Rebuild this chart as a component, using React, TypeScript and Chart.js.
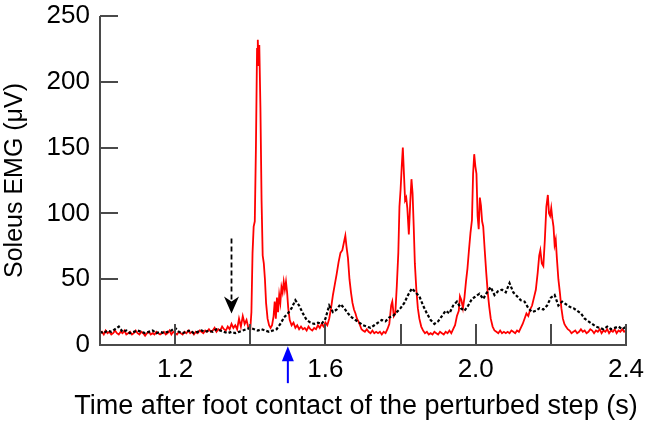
import React, { useEffect, useRef } from 'react';
import { Chart, registerables } from 'chart.js';

Chart.register(...registerables);

// ---- Data ----
const redTime = [
  1.000, 1.005, 1.010, 1.015, 1.020, 1.025, 1.030, 1.035, 1.040, 1.045,
  1.050, 1.055, 1.060, 1.065, 1.070, 1.075, 1.080, 1.085, 1.090, 1.095,
  1.100, 1.105, 1.110, 1.115, 1.120, 1.125, 1.130, 1.135, 1.140, 1.145,
  1.150, 1.155, 1.160, 1.165, 1.170, 1.175, 1.180, 1.185, 1.190, 1.195,
  1.200, 1.205, 1.210, 1.215, 1.220, 1.225, 1.230, 1.235, 1.240, 1.245,
  1.250, 1.255, 1.260, 1.265, 1.270, 1.275, 1.280, 1.285, 1.290, 1.295,
  1.300, 1.305, 1.310, 1.315, 1.320, 1.325, 1.330, 1.335, 1.340, 1.345,
  1.350, 1.355, 1.360, 1.365, 1.370, 1.375, 1.380, 1.385, 1.390, 1.395,
  1.400, 1.403, 1.406, 1.409, 1.412, 1.415, 1.418, 1.420, 1.422, 1.424,
  1.427, 1.430, 1.433, 1.436, 1.439, 1.442, 1.446, 1.450, 1.454, 1.458,
  1.462, 1.465, 1.468, 1.471, 1.474, 1.477, 1.480, 1.483, 1.486, 1.489,
  1.492, 1.495, 1.498, 1.501, 1.505, 1.510, 1.515, 1.520, 1.525, 1.530,
  1.535, 1.540, 1.545, 1.550, 1.555, 1.560, 1.565, 1.570, 1.575, 1.580,
  1.585, 1.590, 1.595, 1.600, 1.605, 1.610, 1.615, 1.620, 1.625, 1.630,
  1.635, 1.640, 1.645, 1.650, 1.653, 1.656, 1.660, 1.664, 1.668, 1.672,
  1.676, 1.680, 1.684, 1.688, 1.692, 1.696, 1.700, 1.705, 1.710, 1.715,
  1.720, 1.725, 1.730, 1.735, 1.740, 1.745, 1.750, 1.755, 1.760, 1.765,
  1.770, 1.775, 1.778, 1.782, 1.786, 1.790, 1.794, 1.797, 1.800, 1.803,
  1.806, 1.809, 1.812, 1.815, 1.818, 1.822, 1.826, 1.829, 1.832, 1.835,
  1.838, 1.842, 1.846, 1.850, 1.855, 1.860, 1.865, 1.870, 1.875, 1.880,
  1.885, 1.890, 1.895, 1.900, 1.905, 1.910, 1.915, 1.920, 1.925, 1.930,
  1.935, 1.940, 1.945, 1.950, 1.955, 1.958, 1.962, 1.966, 1.970, 1.974,
  1.978, 1.982, 1.986, 1.990, 1.993, 1.996, 1.999, 2.002, 2.005, 2.008,
  2.011, 2.014, 2.017, 2.020, 2.024, 2.028, 2.032, 2.036, 2.040, 2.045,
  2.050, 2.055, 2.060, 2.065, 2.070, 2.075, 2.080, 2.085, 2.090, 2.095,
  2.100, 2.105, 2.110, 2.115, 2.120, 2.125, 2.130, 2.135, 2.140, 2.145,
  2.150, 2.155, 2.160, 2.165, 2.169, 2.172, 2.176, 2.180, 2.184, 2.188,
  2.192, 2.195, 2.198, 2.201, 2.204, 2.207, 2.210, 2.213, 2.216, 2.220,
  2.224, 2.228, 2.232, 2.236, 2.240, 2.245, 2.250, 2.255, 2.260, 2.265,
  2.270, 2.275, 2.280, 2.285, 2.290, 2.295, 2.300, 2.305, 2.310, 2.315,
  2.320, 2.325, 2.330, 2.335, 2.340, 2.345, 2.350, 2.355, 2.360, 2.365,
  2.370, 2.375, 2.380, 2.385, 2.390, 2.395, 2.400,
];
const redEmg = [
  9, 10, 8, 11, 9, 10, 8, 9, 11, 9,
  8, 10, 9, 11, 8, 9, 10, 8, 9, 11,
  9, 8, 10, 9, 7, 9, 10, 8, 9, 8,
  10, 9, 8, 9, 10, 8, 9, 11, 8, 10,
  9, 8, 10, 9, 8, 10, 9, 11, 9, 10,
  8, 10, 9, 11, 10, 9, 11, 10, 12, 10,
  11, 13, 10, 12, 11, 14, 12, 11, 14, 12,
  16, 13, 15, 12, 20, 14, 22, 16, 19, 13,
  12, 25, 70, 90, 94, 150, 225, 232, 212, 228,
  180, 110, 68, 62, 50, 32, 20, 15, 13, 15,
  22, 33, 20, 36, 25, 38, 32, 44, 40, 48,
  42, 48, 40, 28, 19, 15, 17, 13, 15, 12,
  14, 12, 13, 11, 14, 12, 11, 13, 12, 15,
  13, 16, 14, 17, 15, 20, 28, 38, 46, 54,
  63, 70, 72, 79, 83, 75, 66, 50, 40, 32,
  27, 24, 20, 18, 15, 12, 11, 10, 12, 10,
  9, 11, 9, 10, 9, 10, 8, 10, 9, 12,
  16, 30, 33, 22, 24, 45, 70, 105, 118, 135,
  150, 130, 110, 112, 104, 84, 110, 126, 115, 90,
  62, 42, 28, 20, 14, 11, 9, 10, 8, 9,
  8, 10, 9, 8, 10, 9, 8, 10, 9, 11,
  9, 12, 15, 22, 26, 37, 34, 28, 36, 48,
  58, 72, 85, 95, 130, 145, 136, 130, 98, 88,
  112, 106, 94, 90, 72, 55, 40, 29, 20, 14,
  11, 10, 9, 11, 9, 10, 9, 10, 9, 11,
  10, 9, 11, 10, 13, 16, 20, 24, 22, 27,
  30, 36, 42, 55, 68, 72, 62, 60, 80, 105,
  114, 100, 98, 104, 96, 90, 76, 80, 66, 50,
  40, 28, 20, 16, 14, 12, 11, 9, 10, 11,
  9, 10, 12, 10, 11, 9, 10, 12, 11, 9,
  11, 10, 12, 9, 11, 10, 12, 9, 11, 10,
  12, 9, 11, 10, 12, 10, 11,
];

const blackTime = [
  1.00, 1.01, 1.02, 1.03, 1.04, 1.05, 1.06, 1.07, 1.08, 1.09,
  1.10, 1.11, 1.12, 1.13, 1.14, 1.15, 1.16, 1.17, 1.18, 1.19,
  1.20, 1.21, 1.22, 1.23, 1.24, 1.25, 1.26, 1.27, 1.28, 1.29,
  1.30, 1.31, 1.32, 1.33, 1.34, 1.35, 1.36, 1.37, 1.38, 1.39,
  1.40, 1.41, 1.42, 1.43, 1.44, 1.45, 1.46, 1.47, 1.48, 1.49,
  1.50, 1.51, 1.52, 1.525, 1.53, 1.54, 1.55, 1.56, 1.57, 1.58,
  1.59, 1.60, 1.61, 1.62, 1.63, 1.64, 1.65, 1.66, 1.67, 1.68,
  1.69, 1.70, 1.71, 1.72, 1.73, 1.74, 1.75, 1.76, 1.77, 1.78,
  1.79, 1.80, 1.81, 1.82, 1.83, 1.84, 1.85, 1.86, 1.87, 1.88,
  1.89, 1.90, 1.91, 1.92, 1.93, 1.94, 1.95, 1.96, 1.97, 1.98,
  1.99, 2.00, 2.01, 2.02, 2.03, 2.04, 2.05, 2.06, 2.07, 2.08,
  2.09, 2.10, 2.11, 2.12, 2.13, 2.14, 2.15, 2.16, 2.17, 2.18,
  2.19, 2.20, 2.21, 2.22, 2.23, 2.24, 2.25, 2.26, 2.27, 2.28,
  2.29, 2.30, 2.31, 2.32, 2.33, 2.34, 2.35, 2.36, 2.37, 2.38,
  2.39, 2.40,
];
const blackEmg = [
  10, 9, 11, 10, 12, 14, 10, 11, 9, 10,
  11, 10, 9, 10, 11, 9, 10, 9, 10, 11,
  13, 10, 9, 10, 11, 9, 10, 11, 10, 11,
  10, 12, 11, 10, 9, 10, 9, 10, 11, 12,
  13, 12, 11, 12, 11, 10, 11, 12, 16, 21,
  24, 28, 34, 32, 30, 24, 19, 17, 16, 17,
  16, 20, 30, 25, 27, 31, 28, 24, 21, 19,
  17, 15, 14, 13, 15, 17, 19, 18, 21, 22,
  25, 28, 32, 38, 43, 40, 37, 30, 24, 19,
  16, 18, 22, 26, 24, 30, 33, 28, 26, 30,
  35, 37, 39, 35, 40, 44, 38, 41, 42, 40,
  47, 40, 37, 34, 33, 28, 25, 26, 28, 27,
  30, 36, 38, 30, 33, 31, 29, 28, 26, 24,
  20, 18, 16, 14, 13, 12, 14, 12, 13, 14,
  12, 14,
];

const xTickValues = [1.2, 1.6, 2.0, 2.4];
const xTickLabels = ['1.2', '1.6', '2.0', '2.4'];
const xTickMarks = [1.2, 1.4, 1.6, 1.8, 2.0, 2.2, 2.4];
const yTickValues = [0, 50, 100, 150, 200, 250];
const xTitle = 'Time after foot contact of the perturbed step (s)';
const yTitle = 'Soleus EMG (μV)';

// annotation arrows, in data units (time, µV)
const perturbationArrow = { time: 1.5, tail: -29, tip: -1 };
const onsetArrow = { time: 1.35, tail: 81, tip: 24 };

const FONT = "'Liberation Sans', Arial, sans-serif";

const axesPlugin = {
  id: 'customAxes',
  afterDatasetsDraw(chart: any) {
    const { ctx, chartArea } = chart;
    const xs = chart.scales.x;
    const ys = chart.scales.y;
    const { left, right, top, bottom } = chartArea;
    ctx.save();
    ctx.strokeStyle = '#4a4a4a';
    ctx.lineWidth = 2;
    ctx.beginPath();
    ctx.moveTo(left, top);
    ctx.lineTo(left, bottom);
    ctx.lineTo(right + 1, bottom);
    ctx.stroke();
    ctx.beginPath();
    yTickValues.forEach((v) => {
      if (v === 0) return;
      const y = Math.round(ys.getPixelForValue(v));
      ctx.moveTo(left, y);
      ctx.lineTo(left + 18, y);
    });
    xTickMarks.forEach((v) => {
      const x = Math.round(xs.getPixelForValue(v));
      ctx.moveTo(x, bottom);
      ctx.lineTo(x, bottom - 21);
    });
    ctx.stroke();

    // x-axis title (slightly left of the plot centre, as in the reference)
    ctx.fillStyle = '#000';
    ctx.font = `27px ${FONT}`;
    ctx.textAlign = 'center';
    ctx.textBaseline = 'middle';
    ctx.fillText(xTitle, (left + right) / 2 - 7, bottom + 62);

    // blue arrow (perturbation)
    const bx = xs.getPixelForValue(perturbationArrow.time);
    const bTail = ys.getPixelForValue(perturbationArrow.tail);
    const bTip = ys.getPixelForValue(perturbationArrow.tip);
    ctx.strokeStyle = '#0000ff';
    ctx.fillStyle = '#0000ff';
    ctx.lineWidth = 2;
    ctx.beginPath();
    ctx.moveTo(bx, bTail);
    ctx.lineTo(bx, bTip + 10);
    ctx.stroke();
    ctx.beginPath();
    ctx.moveTo(bx, bTip);
    ctx.lineTo(bx - 6, bTip + 15);
    ctx.lineTo(bx + 6, bTip + 15);
    ctx.closePath();
    ctx.fill();

    // black dashed arrow (onset)
    const ax = xs.getPixelForValue(onsetArrow.time);
    const aTail = ys.getPixelForValue(onsetArrow.tail);
    const aTip = ys.getPixelForValue(onsetArrow.tip);
    ctx.strokeStyle = '#000';
    ctx.fillStyle = '#000';
    ctx.lineWidth = 1.8;
    ctx.setLineDash([5, 3]);
    ctx.beginPath();
    ctx.moveTo(ax, aTail);
    ctx.lineTo(ax, aTip - 12);
    ctx.stroke();
    ctx.setLineDash([]);
    ctx.beginPath();
    ctx.moveTo(ax, aTip);
    ctx.lineTo(ax - 7.5, aTip - 17);
    ctx.lineTo(ax, aTip - 12);
    ctx.lineTo(ax + 7.5, aTip - 17);
    ctx.closePath();
    ctx.fill();
    ctx.restore();
  },
};

export default function App() {
  const canvasRef = useRef<HTMLCanvasElement | null>(null);

  useEffect(() => {
    if (!canvasRef.current) return;
    const redData = redTime.map((t, i) => ({ x: t, y: redEmg[i] }));
    const blackData = blackTime.map((t, i) => ({ x: t, y: blackEmg[i] }));
    const chart = new Chart(canvasRef.current, {
      type: 'line',
      data: {
        datasets: [
          {
            label: 'Unperturbed',
            data: blackData,
            borderColor: '#000000',
            borderWidth: 2.2,
            borderDash: [3, 2],
            pointRadius: 0,
            tension: 0,
            fill: false,
          },
          {
            label: 'Perturbed',
            data: redData,
            borderColor: '#ff0000',
            borderWidth: 1.8,
            pointRadius: 0,
            tension: 0,
            fill: false,
          },
        ],
      },
      options: {
        responsive: false,
        animation: false,
        devicePixelRatio: 1,
        layout: { padding: { top: 16, right: 20, left: 0, bottom: 0 } },
        plugins: { legend: { display: false }, tooltip: { enabled: false } },
        scales: {
          x: {
            type: 'linear',
            min: 1.0,
            max: 2.4,
            afterBuildTicks: (scale: any) => {
              scale.ticks = xTickValues.map((v) => ({ value: v }));
            },
            afterFit: (scale: any) => {
              scale.height = 80;
              scale.paddingLeft = 0;
              scale.paddingRight = 0;
            },
            grid: { display: false, drawTicks: false },
            border: { display: false },
            ticks: {
              autoSkip: false,
              maxRotation: 0,
              padding: 9,
              color: '#000',
              font: { family: FONT, size: 26 },
              callback: (value: any) => {
                const idx = xTickValues.findIndex((v) => Math.abs(v - Number(value)) < 1e-6);
                return idx >= 0 ? xTickLabels[idx] : '';
              },
            },
            title: { display: false },
          },
          y: {
            type: 'linear',
            min: 0,
            max: 250,
            afterBuildTicks: (scale: any) => {
              scale.ticks = yTickValues.map((v) => ({ value: v }));
            },
            afterFit: (scale: any) => {
              scale.width = 100;
              scale.paddingTop = 0;
              scale.paddingBottom = 0;
            },
            grid: { display: false, drawTicks: false },
            border: { display: false },
            ticks: {
              padding: 10,
              color: '#000',
              font: { family: FONT, size: 26 },
              callback: (value: any) => String(value),
            },
            title: {
              display: true,
              text: yTitle,
              color: '#000',
              font: { family: FONT, size: 25 },
              padding: { top: 0, bottom: 0 },
            },
          },
        },
      },
      plugins: [axesPlugin],
    });
    return () => chart.destroy();
  }, []);

  return (
    <div style={{ position: 'absolute', left: 0, top: 0, width: 646, height: 425, background: '#fff' }}>
      <canvas ref={canvasRef} width={646} height={425} />
    </div>
  );
}
